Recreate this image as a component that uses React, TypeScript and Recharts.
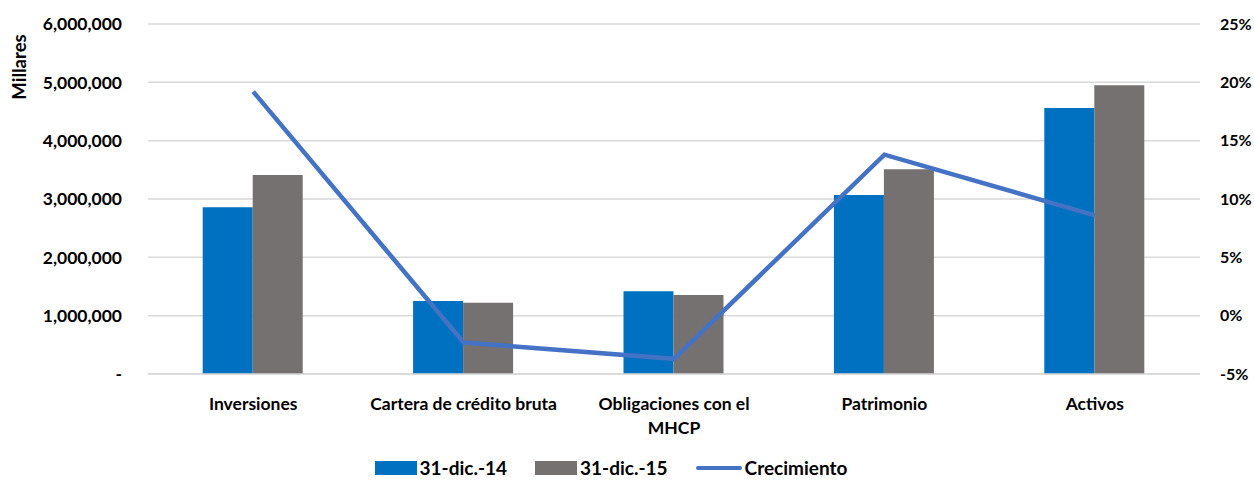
import React from "react";
import { ComposedChart, Bar, Line, XAxis, YAxis, CartesianGrid, Legend } from "recharts";

const categories = ["Inversiones", "Cartera de crédito bruta", "Obligaciones con el\nMHCP", "Patrimonio", "Activos"];
const dic14 = [2860000, 1250000, 1420000, 3070000, 4560000];
const dic15 = [3410000, 1220000, 1355000, 3510000, 4950000];
const crecimiento = [0.192, -0.023, -0.037, 0.138, 0.086];
const leftTicks = [0, 1000000, 2000000, 3000000, 4000000, 5000000, 6000000];
const rightTicks = [-0.05, 0, 0.05, 0.1, 0.15, 0.2, 0.25];

const data = categories.map((c, i) => ({ name: c, d14: dic14[i], d15: dic15[i], g: crecimiento[i] }));

const FONT = "Lato, 'Open Sans', sans-serif";

const XTick = (props: any) => {
  const { x, y, payload } = props;
  const lines = String(payload.value).split("\n");
  return (
    <g transform={`translate(${x},${y})`}>
      {lines.map((l: string, i: number) => (
        <text key={i} x={0} y={i * 24} dy={28} textAnchor="middle" fill="#000" fontSize={17.5} fontWeight={700} fontFamily={FONT}>
          {l}
        </text>
      ))}
    </g>
  );
};

const LegendContent = () => {
  const items = [
    { label: "31-dic.-14", color: "#0070C0", type: "rect" },
    { label: "31-dic.-15", color: "#767171", type: "rect" },
    { label: "Crecimiento", color: "#4472C4", type: "line" },
  ];
  return (
    <div style={{ display: "flex", justifyContent: "center", alignItems: "flex-end", height: 45, paddingRight: 32, boxSizing: "border-box", fontFamily: FONT, fontWeight: 700, fontSize: 19, lineHeight: "22px", color: "#000" }}>
      {items.map((it, i) => (
        <div key={i} style={{ display: "flex", alignItems: "center", marginLeft: i === 0 ? 0 : 28 }}>
          {it.type === "rect" ? (
            <div style={{ width: 42, height: 14, background: it.color, marginRight: 3 }} />
          ) : (
            <div style={{ width: 46, height: 4, borderRadius: 2, background: it.color, marginRight: 3 }} />
          )}
          <span>{it.label}</span>
        </div>
      ))}
    </div>
  );
};

const MillaresLabel = () => (
  <text transform="translate(26,67) rotate(-90)" textAnchor="middle" fill="#000" fontSize={18.5} fontWeight={700} fontFamily={FONT}>
    Millares
  </text>
);

export default function App() {
  return (
    <div style={{ position: "absolute", left: 0, top: 0, width: 1254, height: 481, background: "#fff" }}>
      <ComposedChart width={1254} height={481} data={data} margin={{ top: 24, right: 0, bottom: 0, left: 0 }} barGap={0} barCategoryGap="26%">
        <CartesianGrid vertical={false} stroke="#D9D9D9" strokeWidth={1.5} yAxisId="left" />
        <XAxis dataKey="name" axisLine={{ stroke: "#D9D9D9", strokeWidth: 1.5 }} tickLine={false} height={60} interval={0} tick={<XTick />} />
        <YAxis
          yAxisId="left"
          orientation="left"
          width={148}
          domain={[0, 6000000]}
          ticks={leftTicks}
          axisLine={false}
          tickLine={false}
          tickMargin={20}
          tickFormatter={(v: number) => (v === 0 ? "-" : v.toLocaleString("en-US"))}
          tick={{ fill: "#000", fontSize: 17.5, fontWeight: 700, fontFamily: FONT }}
          label={{ content: <MillaresLabel /> } as any}
        />
        <YAxis
          yAxisId="right"
          orientation="right"
          width={54}
          domain={[-0.05, 0.25]}
          ticks={rightTicks}
          axisLine={false}
          tickLine={false}
          tickMargin={14}
          tickFormatter={(v: number) => `${Math.round(v * 100)}%`}
          tick={{ fill: "#000", fontSize: 16, fontWeight: 700, fontFamily: FONT }}
        />
        <Bar yAxisId="left" dataKey="d14" name="31-dic.-14" fill="#0070C0" isAnimationActive={false} />
        <Bar yAxisId="left" dataKey="d15" name="31-dic.-15" fill="#767171" isAnimationActive={false} />
        <Line yAxisId="right" dataKey="g" name="Crecimiento" stroke="#4472C4" strokeWidth={4.5} dot={false} type="linear" isAnimationActive={false} />
        <Legend verticalAlign="bottom" height={47} content={<LegendContent />} wrapperStyle={{ bottom: 0 }} />
      </ComposedChart>
    </div>
  );
}
